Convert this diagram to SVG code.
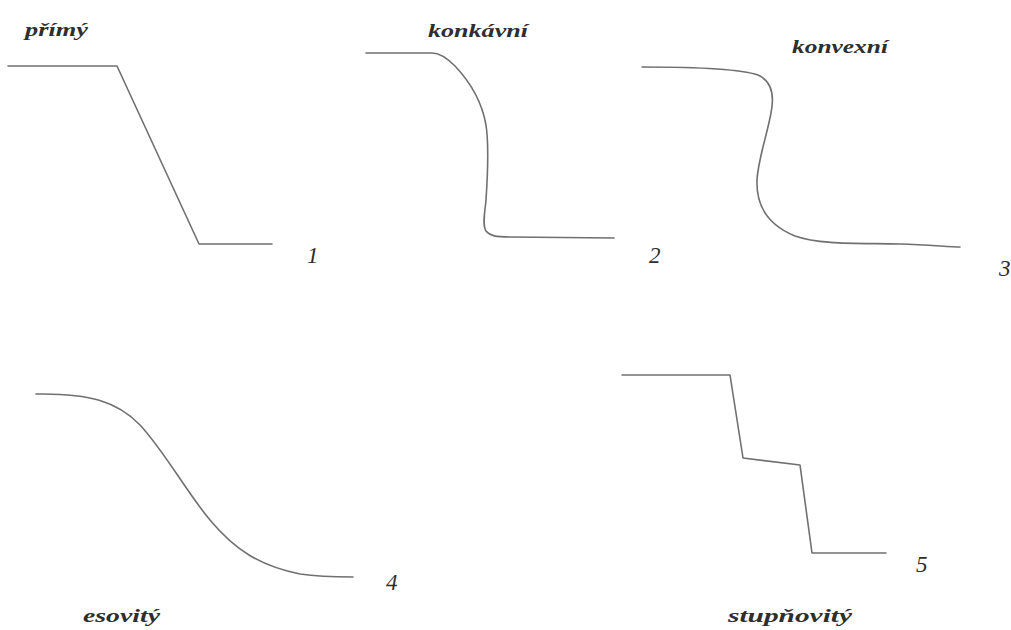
<svg xmlns="http://www.w3.org/2000/svg" width="1011" height="630" viewBox="0 0 1011 630">
<style>
.p{fill:none;stroke:#707070;stroke-width:1.6;stroke-linejoin:round;stroke-linecap:round}
.t{font-family:"Liberation Serif",serif;font-style:italic;font-weight:bold;fill:#2e2e2e;font-size:19px}
.n{font-family:"Liberation Serif",serif;font-style:italic;fill:#2e2e2e;font-size:23px}
</style>
<rect width="1011" height="630" fill="#fff"/>
<g id="profiles">
<g id="p1"><path class="p" d="M8,66 L117,66 L199,244 L272,244"/><text class="t" x="25" y="36" textLength="63" lengthAdjust="spacingAndGlyphs">přímý</text><text class="n" x="307" y="263">1</text></g>
<g id="p2"><path class="p" d="M366,53 L432,53 C440,53 447,58 455,66 C472,84 482,102 486,125 C489,145 488,170 486,200 C485,212 482,224 486,231 C490,236 496,237 510,237 L614,238"/><text class="t" x="428" y="37" textLength="100" lengthAdjust="spacingAndGlyphs">konkávní</text><text class="n" x="649" y="263">2</text></g>
<g id="p3"><path class="p" d="M642,67 C700,67 740,69 758,75 C774,82 774,98 771,113 C767,135 758,160 757,180 C756,205 768,225 795,236 C820,245 860,243 900,244 C930,245 950,247 960,247"/><text class="t" x="792" y="53" textLength="96" lengthAdjust="spacingAndGlyphs">konvexní</text><text class="n" x="999" y="276">3</text></g>
<g id="p4"><path class="p" d="M36,394 C90,393 118,402 140,425 C165,452 185,490 210,520 C235,550 260,566 300,574 C320,577 340,577 353,577"/><text class="t" x="83" y="622" textLength="77" lengthAdjust="spacingAndGlyphs">esovitý</text><text class="n" x="386" y="590">4</text></g>
<g id="p5"><path class="p" d="M622,375 L730,375 L743,458 L800,465 L812,553 L886,553"/><text class="t" x="728" y="622" textLength="124" lengthAdjust="spacingAndGlyphs">stupňovitý</text><text class="n" x="916" y="572">5</text></g>
</g>
</svg>
